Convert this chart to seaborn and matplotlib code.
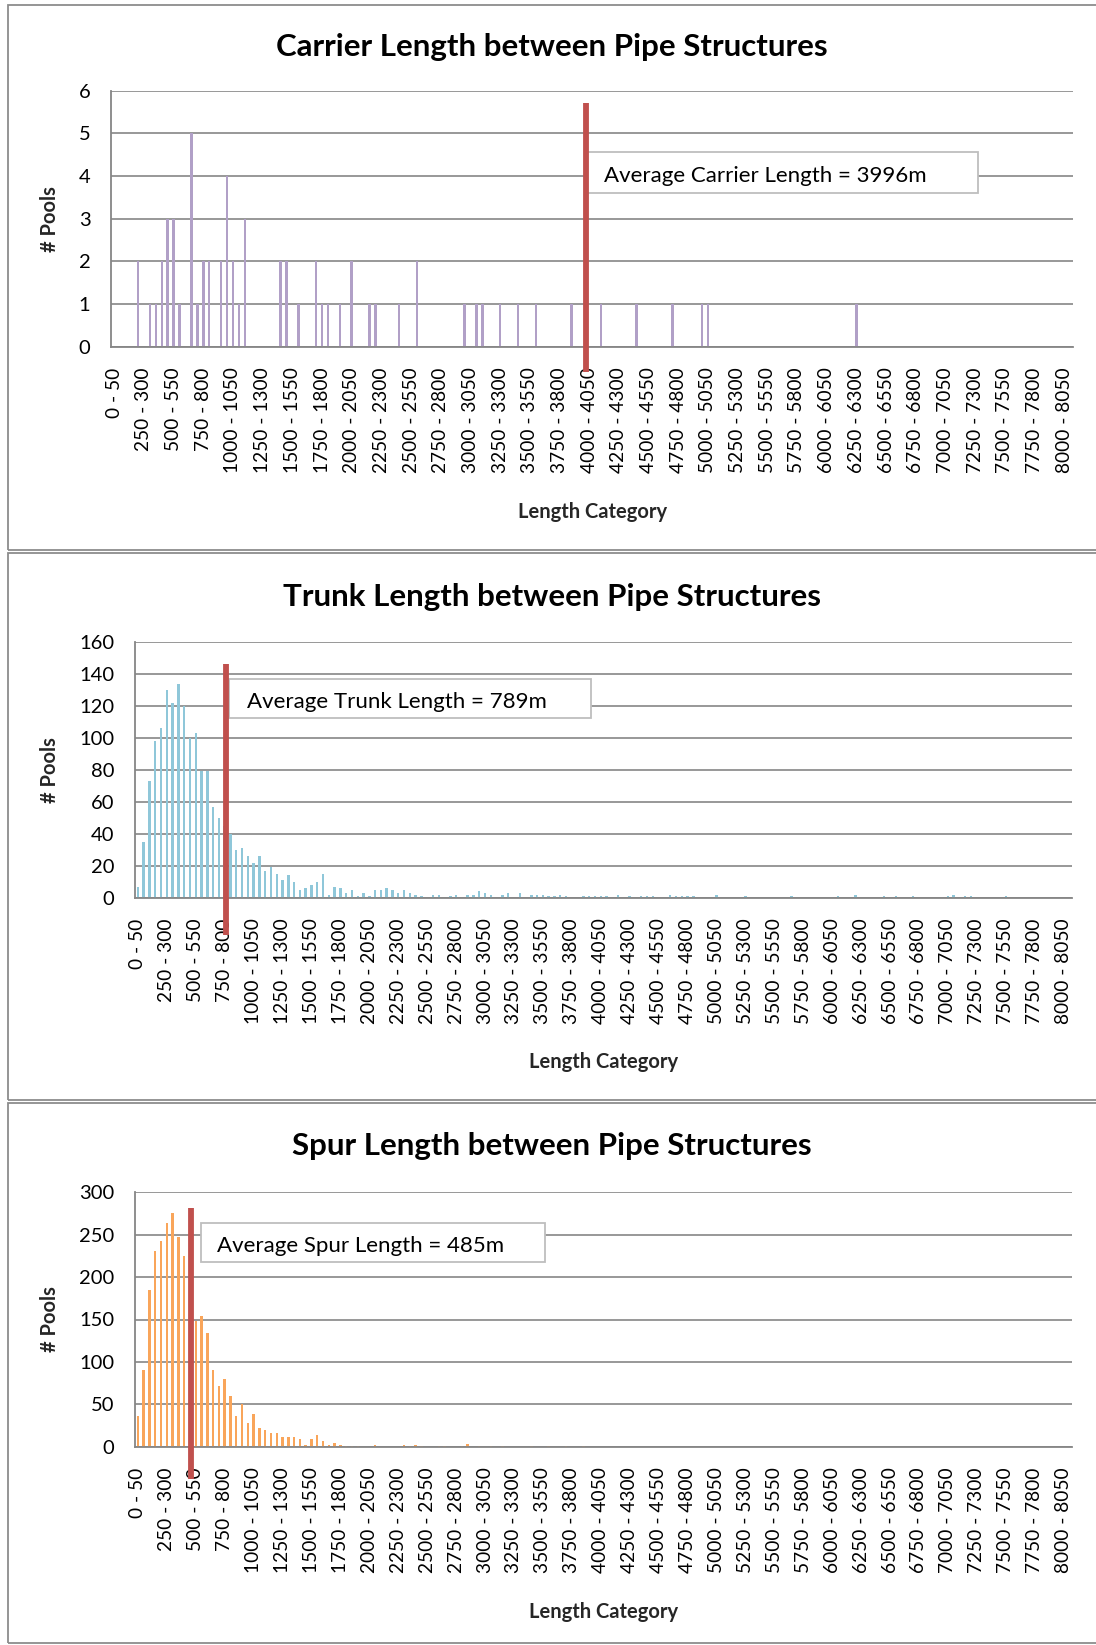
import matplotlib
matplotlib.use("Agg")
import matplotlib.pyplot as plt
from matplotlib.patches import Rectangle
import seaborn as sns

# ---------------------------------------------------------------- data
# 50 m length classes: "0 - 50", "50 - 100", ... "8050 - 8100"
length_categories = [f"{lo} - {lo + 50}" for lo in range(0, 8100, 50)]
tick_labels = length_categories[::5]

# Carrier: only the classes that hold at least one pool (lower bound in m)
carrier_class_start = [200, 300, 350, 400, 450, 500, 550, 650, 700, 750,
                       800, 900, 950, 1000, 1050, 1100, 1400, 1450, 1550, 1700,
                       1750, 1800, 1900, 2000, 2150, 2200, 2400, 2550, 2950, 3050,
                       3100, 3250, 3400, 3550, 3850, 4100, 4400, 4700, 4950, 5000,
                       6250]
carrier_pools = [2, 1, 1, 2, 3, 3, 1, 5, 1, 2,
                 2, 2, 4, 2, 1, 3, 2, 2, 1, 2,
                 1, 1, 1, 2, 1, 1, 1, 2, 1, 1,
                 1, 1, 1, 1, 1, 1, 1, 1, 1, 1,
                 1]
carrier_classes = [f"{lo} - {lo + 50}" for lo in carrier_class_start]

trunk_pools = [
    7, 35, 73, 98, 106, 130, 122, 134, 120, 100,
    103, 79, 79, 57, 50, 45, 40, 30, 31, 26,
    22, 26, 17, 19, 15, 11, 14, 10, 5, 6,
    8, 10, 15, 2, 7, 6, 3, 5, 1, 3,
    1, 5, 5, 6, 5, 3, 5, 3, 2, 1,
    0, 2, 2, 0, 1, 2, 0, 2, 2, 4,
    3, 2, 0, 2, 3, 0, 3, 0, 2, 2,
    2, 1, 1, 2, 1, 0, 0, 1, 1, 1,
    1, 1, 0, 2, 0, 1, 0, 1, 1, 1,
    0, 0, 2, 1, 1, 1, 1, 0, 0, 0,
    2, 0, 0, 0, 0, 1, 0, 0, 0, 0,
    0, 0, 0, 1, 0, 0, 0, 0, 0, 0,
    0, 1, 0, 0, 2, 0, 0, 0, 0, 1,
    0, 1, 0, 0, 1, 0, 0, 0, 0, 0,
    1, 2, 0, 1, 1, 0, 0, 0, 0, 0,
    1, 0, 0, 0, 0, 0, 0, 0, 0, 0,
    0, 0,
]

spur_pools = [
    36, 90, 185, 231, 242, 264, 276, 247, 225, 204,
    148, 154, 134, 90, 72, 80, 60, 36, 50, 28,
    38, 22, 20, 16, 16, 12, 11, 12, 9, 2,
    9, 14, 7, 2, 4, 2, 1, 1, 1, 0,
    0, 2, 0, 0, 0, 0, 2, 1, 2, 1,
    0, 0, 1, 1, 0, 0, 1, 3, 0, 1,
    0, 1, 0, 1, 0, 0, 0, 0, 1, 0,
    0, 1, 0, 0, 1, 0, 0, 1, 0, 0,
    0, 0, 0, 0, 0, 0, 0, 0, 0, 0,
    0, 0, 0, 0, 0, 0, 0, 0, 0, 0,
    0, 0, 0, 0, 0, 0, 0, 0, 0, 0,
    0, 0, 0, 0, 0, 0, 0, 0, 0, 0,
    0, 0, 0, 0, 0, 0, 0, 0, 0, 0,
    0, 0, 0, 0, 0, 0, 0, 0, 0, 0,
    0, 0, 0, 0, 0, 0, 0, 0, 0, 0,
    0, 0, 0, 0, 0, 0, 0, 0, 0, 0,
    0, 0,
]

average_carrier = 3996
average_trunk = 789
average_spur = 485

# ---------------------------------------------------------------- style
sns.set_theme(style="white")
plt.rcParams["font.family"] = ["Lato", "DejaVu Sans"]

W, H = 1096, 1645
DPI = 100
fig = plt.figure(figsize=(W / DPI, H / DPI), dpi=DPI)
fig.patch.set_facecolor("white")

GRID = "#868686"
FRAME = "#8C8C8C"
AVG_RED = "#C0504D"


def fig_box(x0, y0, x1, y1):
    """Pixel box (top-left origin) -> figure fraction [left, bottom, w, h]."""
    return [x0 / W, 1 - y1 / H, (x1 - x0) / W, (y1 - y0) / H]


def panel(frame, ax_px, title, title_y, counts, classes, ymax, ystep,
          color, average, label, line_span, box_px, text_px, xlabel_y):
    # outer chart frame
    fx0, fy0, fx1, fy1 = frame
    fig.add_artist(Rectangle((fx0 / W, 1 - fy1 / H), (fx1 - fx0) / W,
                             (fy1 - fy0) / H, transform=fig.transFigure,
                             fill=False, ec=FRAME, lw=1.3))
    fig.text(552 / W, 1 - title_y / H, title, ha="center", va="center",
             fontsize=22.5, fontweight="bold", color="black")

    ax = fig.add_axes(fig_box(*ax_px))
    sns.barplot(x=classes, y=counts, order=length_categories, color=color,
                saturation=1, width=0.42, linewidth=0, errorbar=None,
                ax=ax, zorder=2)
    ax.set_xlim(-0.5, len(length_categories) - 0.5)
    ax.set_ylim(0, ymax)
    ax.set_yticks(range(0, ymax + 1, ystep))
    ax.set_xticks(range(0, len(length_categories), 5))
    ax.set_xticklabels(tick_labels, rotation=90)
    ax.tick_params(axis="x", length=0, pad=15, labelsize=13.8, colors="black")
    ax.tick_params(axis="y", length=0, pad=15, labelsize=14.5, colors="black")
    ax.yaxis.grid(True, color=GRID, lw=1.2)
    ax.xaxis.grid(False)
    ax.set_axisbelow(True)
    for side in ("top", "right"):
        ax.spines[side].set_visible(False)
    for side in ("left", "bottom"):
        ax.spines[side].set_visible(True)
        ax.spines[side].set_color(GRID)
        ax.spines[side].set_linewidth(1.3)
    ax.set_xlabel("")
    ax.set_ylabel("")

    # axis titles
    cx = (ax_px[0] + ax_px[2]) / 2
    fig.text(cx / W, 1 - xlabel_y / H, "Length Category", ha="center",
             va="center", fontsize=14.5, fontweight="bold")
    cy = (ax_px[1] + ax_px[3]) / 2
    fig.text(50 / W, 1 - cy / H, "# Pools", ha="center", va="center",
             rotation=90, fontsize=14.5, fontweight="bold")

    # annotation box with the average, then the average marker on top
    bx0, by0, bx1, by1 = box_px
    ax.add_patch(Rectangle((bx0 / W, 1 - by1 / H), (bx1 - bx0) / W,
                           (by1 - by0) / H, transform=fig.transFigure,
                           fc="white", ec="#BEBEBE", lw=1.3, zorder=4,
                           clip_on=False))
    ax.text(text_px[0] / W, 1 - text_px[1] / H, label,
            transform=fig.transFigure, ha="left", va="center",
            fontsize=16, color="black", zorder=5)
    x_avg = average / 50 - 0.5
    ax.plot([x_avg, x_avg], line_span, color=AVG_RED, lw=4.2,
            solid_capstyle="butt", clip_on=False, zorder=6)
    return ax


panel(frame=(8, 5, 1120, 550), ax_px=(111.3, 90.7, 1073, 346.7),
      title="Carrier Length between Pipe Structures", title_y=47,
      counts=carrier_pools, classes=carrier_classes, ymax=6, ystep=1,
      color="#B1A0C7", average=average_carrier,
      label=f"Average Carrier Length = {average_carrier}m",
      line_span=(5.72, -0.6), box_px=(586, 151.7, 977.7, 192.7),
      text_px=(604, 175.5), xlabel_y=512)

panel(frame=(8, 553, 1120, 1100), ax_px=(135, 642, 1072.3, 897.7),
      title="Trunk Length between Pipe Structures", title_y=597,
      counts=trunk_pools, classes=length_categories, ymax=160, ystep=20,
      color="#8FC7D9", average=average_trunk,
      label=f"Average Trunk Length = {average_trunk}m",
      line_span=(146, -23.5), box_px=(229.3, 679.3, 590.7, 718.3),
      text_px=(246.7, 702), xlabel_y=1062)

panel(frame=(8, 1103, 1120, 1643), ax_px=(135, 1192.3, 1072.3, 1446.7),
      title="Spur Length between Pipe Structures", title_y=1146,
      counts=spur_pools, classes=length_categories, ymax=300, ystep=50,
      color="#F9A55A", average=average_spur,
      label=f"Average Spur Length = {average_spur}m",
      line_span=(282, -38), box_px=(200.7, 1222.7, 545, 1262.3),
      text_px=(216.7, 1245.5), xlabel_y=1612)

fig.savefig("out.png", dpi=DPI, facecolor="white")
